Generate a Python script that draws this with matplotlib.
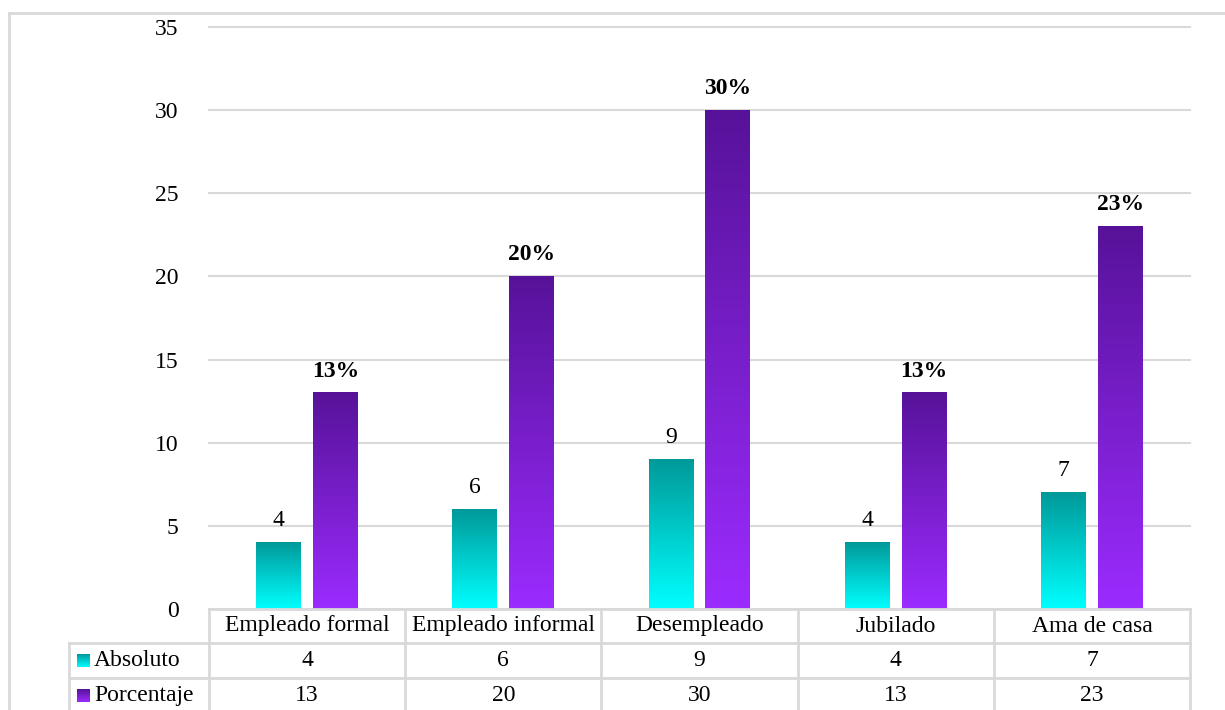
import matplotlib
matplotlib.use("Agg")
import matplotlib.pyplot as plt
import numpy as np
from matplotlib.lines import Line2D
from matplotlib.transforms import blended_transform_factory

categories = ["Empleado formal", "Empleado informal", "Desempleado", "Jubilado", "Ama de casa"]
absoluto = [4, 6, 9, 4, 7]
porcentaje = [13, 20, 30, 13, 23]
series_names = ["Absoluto", "Porcentaje"]

W, H = 1225, 710
GRID = "#d9d9d9"
CYAN = ((0.0, 0.60, 0.60), (0.0, 1.0, 1.0))        # top, bottom
PURPLE = ((0.34, 0.07, 0.60), (0.61, 0.17, 1.0))   # top, bottom

plt.rcParams["font.family"] = ["Liberation Serif", "DejaVu Serif"]
FS = 17

fig = plt.figure(figsize=(W / 100, H / 100), dpi=100)
ax = fig.add_axes([209 / W, 1 - 609 / H, (1190 - 209) / W, (609 - 27) / H])


def gradient(top, bottom, n=256):
    t = np.linspace(0, 1, n)[:, None]
    top, bottom = np.array(top), np.array(bottom)
    rgb = bottom + (top - bottom) * t
    return rgb[:, None, :]


x = np.arange(len(categories))
width = 0.229
offset = 0.145

bars_a = ax.bar(x - offset, absoluto, width, color="none", zorder=2)
bars_p = ax.bar(x + offset, porcentaje, width, color="none", zorder=2)

for bars, cols in ((bars_a, CYAN), (bars_p, PURPLE)):
    for b in bars:
        x0, h = b.get_x(), b.get_height()
        ax.imshow(gradient(*cols), extent=[x0, x0 + b.get_width(), 0, h],
                  origin="lower", aspect="auto", zorder=2, interpolation="bilinear")

for b, v in zip(bars_a, absoluto):
    ax.annotate(str(v), (b.get_x() + b.get_width() / 2, v), xytext=(0, 8),
                textcoords="offset points", ha="center", va="bottom", fontsize=FS)
for b, v in zip(bars_p, porcentaje):
    ax.annotate(f"{v}%", (b.get_x() + b.get_width() / 2, v), xytext=(0, 8),
                textcoords="offset points", ha="center", va="bottom",
                fontsize=FS, fontweight="bold")

ax.set_xlim(-0.5, len(categories) - 0.5)
ax.set_ylim(0, 35)
ax.set_yticks(range(0, 36, 5))
ax.set_xticks([])
ax.yaxis.grid(True, color=GRID, linewidth=1.5, zorder=0)
for gl in ax.yaxis.get_gridlines():
    gl.set_clip_on(False)
ax.set_axisbelow(True)
ax.tick_params(axis="y", length=0, pad=22, labelsize=FS)
for s in ax.spines.values():
    s.set_visible(False)

# data table under the plot
trans = blended_transform_factory(ax.transData, ax.transAxes)
ph = 582.0
row_y = [0, -34 / ph, -69 / ph, -104 / ph]
left = -0.5 - 140 / 196.2
right = len(categories) - 0.5
lk = dict(color=GRID, linewidth=2, transform=trans, clip_on=False, zorder=3)
ax.plot([-0.5, right], [0, 0], **lk)
for y in row_y[1:3]:
    ax.plot([left, right], [y, y], **lk)
for xb in np.arange(-0.5, right + 0.01, 1):
    ax.plot([xb, xb], [0, row_y[-1]], **lk)
ax.plot([left, left], [row_y[1], row_y[-1]], **lk)

mid = [(row_y[i] + row_y[i + 1]) / 2 for i in range(3)]
for i, cat in enumerate(categories):
    ax.text(i, mid[0], cat, transform=trans, ha="center", va="center", fontsize=FS)
    ax.text(i, mid[1], str(absoluto[i]), transform=trans, ha="center", va="center", fontsize=FS)
    ax.text(i, mid[2], str(porcentaje[i]), transform=trans, ha="center", va="center", fontsize=FS)

# legend keys inside the table
key_w = 13 / 196.2
key_h = 13 / ph
for r, (name, cols) in enumerate(zip(series_names, (CYAN, PURPLE))):
    kx = left + 8 / 196.2
    ky = mid[r + 1]
    ax.imshow(gradient(*cols), extent=[kx, kx + key_w, ky - key_h / 2, ky + key_h / 2],
              origin="lower", aspect="auto", transform=trans, clip_on=False, zorder=3)
    ax.text(kx + key_w + 4 / 196.2, ky, name, transform=trans, ha="left", va="center", fontsize=FS)

ax.set_xlim(-0.5, len(categories) - 0.5)
ax.set_ylim(0, 35)

# outer chart frame
fig.add_artist(Line2D([9 / W, 9 / W], [0, 1 - 13 / H], color=GRID, linewidth=2))
fig.add_artist(Line2D([9 / W, 1], [1 - 13 / H, 1 - 13 / H], color=GRID, linewidth=2))

fig.savefig("out.png", dpi=100)
